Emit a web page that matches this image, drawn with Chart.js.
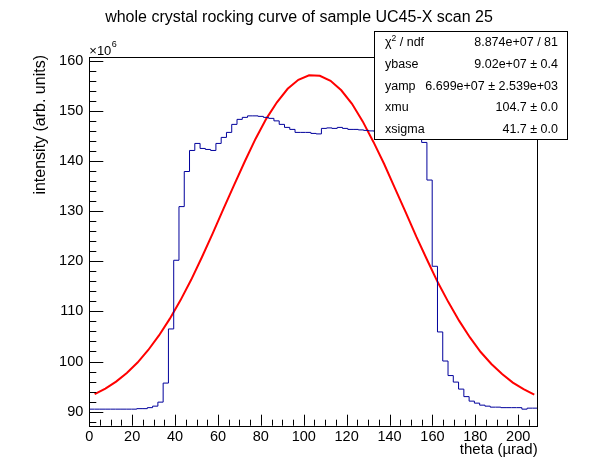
<!DOCTYPE html>
<html>
<head>
<meta charset="utf-8">
<script src="https://cdn.jsdelivr.net/npm/chart.js@4.4.1/dist/chart.umd.min.js"></script>
<style>
  html, body { margin: 0; padding: 0; background: #fff; }
  #wrap { width: 598px; height: 474px; }
</style>
</head>
<body>
<div id="wrap"><canvas id="chart" width="598" height="474"></canvas></div>
<script>
// histogram range (µrad) and bin contents, in units of 1e6
const thetaMin = 0;
const thetaMax = 209.1;
const counts = [
  90.7, 90.5, 90.5, 90.5, 90.5, 90.5, 90.5, 90.5, 90.5, 90.5,
  90.6, 90.6, 90.8, 91.1, 91.9, 95.7, 106.5, 120.2, 130.9, 137.9,
  142.1, 143.5, 142.5, 142.3, 142.1, 143.5, 144.7, 145.7, 147.3, 148.3,
  148.7, 149.0, 149.0, 148.9, 148.7, 148.5, 148.0, 147.3, 146.7, 146.3,
  145.7, 145.7, 145.7, 145.5, 145.4, 146.5, 146.6, 146.5, 146.7, 146.5,
  146.3, 146.3, 146.2, 146.1, 146.0, 145.8, 146.0, 146.3, 146.5, 146.2,
  145.9, 145.5, 145.1, 144.9, 143.7, 136.2, 119.0, 105.9, 100.1, 97.2,
  95.9, 94.5, 93.0, 92.1, 91.7, 91.3, 91.1, 90.9, 90.9, 90.8,
  90.8, 90.8, 90.8, 90.5, 90.7
];

// fitted curve
const fitTheta = [
  2.5, 7.5, 12.5, 17.5, 22.5, 27.5, 32.5, 37.5, 42.5, 47.5,
  52.5, 57.5, 62.5, 67.5, 72.5, 77.5, 82.5, 87.5, 92.5, 97.5,
  102.5, 107.5, 112.5, 117.5, 122.5, 127.5, 132.5, 137.5, 142.5, 147.5,
  152.5, 157.5, 162.5, 167.5, 172.5, 177.5, 182.5, 187.5, 192.5, 197.5,
  202.5, 207.5
];
const fitValues = [
  93.5, 94.6, 96.0, 97.7, 99.8, 102.3, 105.2, 108.5, 112.2, 116.3,
  120.8, 125.5, 130.4, 135.2, 139.9, 144.4, 148.4, 151.7, 154.4, 156.2,
  157.1, 157.0, 156.0, 154.1, 151.4, 147.9, 143.8, 139.4, 134.6, 129.8,
  124.9, 120.3, 115.8, 111.8, 108.1, 104.8, 101.9, 99.5, 97.5, 95.8,
  94.5, 93.4
];

const xTicks = [0, 20, 40, 60, 80, 100, 120, 140, 160, 180, 200];
const yTicks = [90, 100, 110, 120, 130, 140, 150, 160];

const statLabels = ["χ2 / ndf", "ybase", "yamp", "xmu", "xsigma"];
const statValues = ["8.874e+07 / 81", "9.02e+07 ± 0.4", "6.699e+07 ± 2.539e+03", "104.7 ± 0.0", "41.7 ± 0.0"];

const FONT = "'Liberation Sans', Arial, Helvetica, sans-serif";

// build step outline from bin low edges
const binWidth = (thetaMax - thetaMin) / counts.length;
const histPoints = counts.map((v, i) => ({ x: thetaMin + i * binWidth, y: v }));
histPoints.push({ x: thetaMax, y: counts[counts.length - 1] });

const fitPoints = fitTheta.map((t, i) => ({ x: t, y: fitValues[i] }));

// frame, inward ticks, titles and stats box, ROOT style
const rootDecor = {
  id: "rootDecor",
  afterDatasetsDraw(chart) {
    const ctx = chart.ctx;
    const a = chart.chartArea;
    const xs = chart.scales.x;
    const ys = chart.scales.y;
    ctx.save();
    ctx.strokeStyle = "#000";
    ctx.lineWidth = 1;

    ctx.strokeRect(Math.round(a.left) + 0.5, Math.round(a.top) + 0.5,
      Math.round(a.right - a.left), Math.round(a.bottom - a.top));

    ctx.beginPath();
    for (let v = 0; v <= xs.max; v += 5) {
      const px = Math.round(xs.getPixelForValue(v)) + 0.5;
      const len = v % 20 === 0 ? 11 : 6;
      ctx.moveTo(px, a.bottom);
      ctx.lineTo(px, a.bottom - len);
    }
    for (let v = 88; v <= ys.max; v += 2) {
      const py = Math.round(ys.getPixelForValue(v)) + 0.5;
      const len = v % 10 === 0 ? 14 : 7;
      ctx.moveTo(a.left, py);
      ctx.lineTo(a.left + len, py);
    }
    ctx.stroke();

    ctx.fillStyle = "#000";
    ctx.textBaseline = "alphabetic";

    // exponent
    ctx.font = "13px " + FONT;
    ctx.textAlign = "left";
    ctx.fillText("×10", a.left, 55);
    const ew = ctx.measureText("×10").width;
    ctx.font = "9px " + FONT;
    ctx.fillText("6", a.left + ew + 0.5, 47);

    // title
    ctx.font = "16px " + FONT;
    ctx.textAlign = "center";
    ctx.fillText("whole crystal rocking curve of sample UC45-X scan 25", 299, 22);

    // x axis title
    ctx.font = "15px " + FONT;
    ctx.textAlign = "right";
    ctx.fillText("theta (µrad)", a.right, 454);

    // y axis title
    ctx.save();
    ctx.translate(44.5, 55);
    ctx.rotate(-Math.PI / 2);
    ctx.font = "16px " + FONT;
    ctx.textAlign = "right";
    ctx.fillText("intensity (arb. units)", 0, 0);
    ctx.restore();

    // stats box
    ctx.fillStyle = "#fff";
    ctx.fillRect(374.5, 31.5, 193, 108);
    ctx.strokeRect(374.5, 31.5, 193, 108);
    ctx.fillStyle = "#000";
    ctx.textBaseline = "middle";
    statLabels.forEach((lab, i) => {
      const y = 43 + i * 21.6;
      ctx.font = "12.5px " + FONT;
      ctx.textAlign = "left";
      if (lab.startsWith("χ2")) {
        ctx.fillText("χ", 385, y);
        const w = ctx.measureText("χ").width;
        ctx.font = "8.5px " + FONT;
        ctx.fillText("2", 385 + w, y - 4.5);
        const w2 = ctx.measureText("2").width;
        ctx.font = "12.5px " + FONT;
        ctx.fillText(" / ndf", 385 + w + w2, y);
      } else {
        ctx.fillText(lab, 385, y);
      }
      ctx.textAlign = "right";
      ctx.fillText(statValues[i], 558, y);
    });
    ctx.restore();
  }
};

new Chart(document.getElementById("chart"), {
  type: "line",
  data: {
    datasets: [
      {
        label: "data",
        data: histPoints,
        stepped: "after",
        borderColor: "#00009c",
        borderWidth: 1,
        pointRadius: 0,
        fill: false
      },
      {
        label: "fit",
        data: fitPoints,
        borderColor: "#ff0000",
        borderWidth: 2,
        pointRadius: 0,
        tension: 0,
        fill: false
      }
    ]
  },
  options: {
    responsive: false,
    animation: false,
    devicePixelRatio: 1,
    layout: { padding: { left: 0, top: 56.7, right: 60.3, bottom: 0 } },
    plugins: {
      legend: { display: false },
      title: { display: false },
      tooltip: { enabled: false }
    },
    scales: {
      x: {
        type: "linear",
        min: thetaMin,
        max: thetaMax,
        grid: { display: false, drawTicks: false },
        border: { display: false },
        afterBuildTicks: (s) => { s.ticks = xTicks.map((v) => ({ value: v })); },
        afterFit: (s) => { s.height = 48.3; },
        ticks: {
          padding: 3,
          maxRotation: 0,
          autoSkip: false,
          color: "#000",
          font: { family: FONT, size: 14.5 }
        }
      },
      y: {
        min: 87.2,
        max: 160.8,
        grid: { display: false, drawTicks: false },
        border: { display: false },
        afterBuildTicks: (s) => { s.ticks = yTicks.map((v) => ({ value: v })); },
        afterFit: (s) => { s.width = 89.3; },
        ticks: {
          padding: 6,
          autoSkip: false,
          color: "#000",
          font: { family: FONT, size: 14.5 }
        }
      }
    }
  },
  plugins: [rootDecor]
});
</script>
</body>
</html>
